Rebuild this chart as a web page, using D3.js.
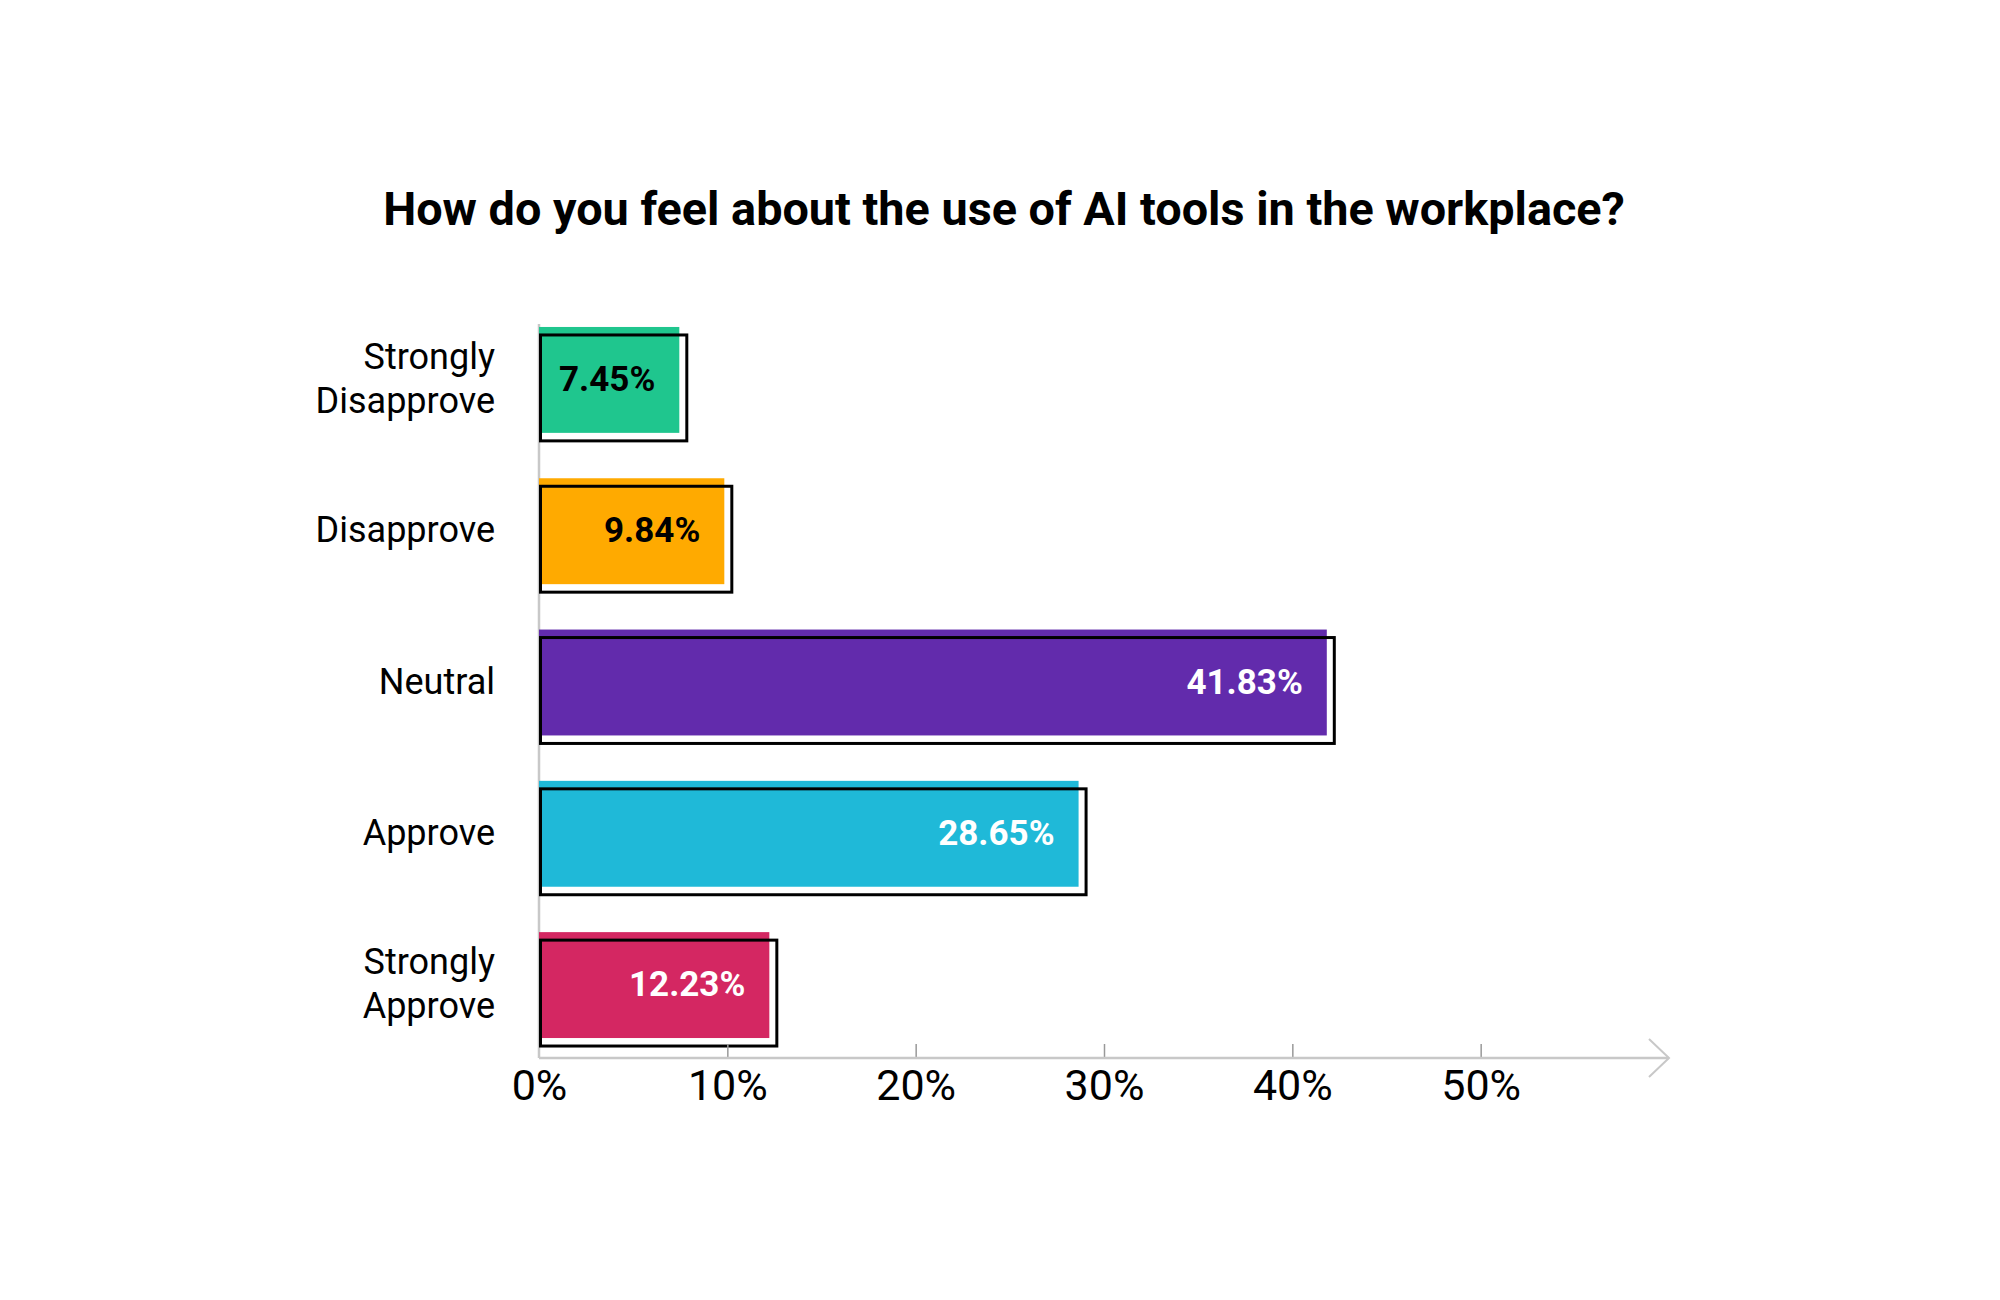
<!DOCTYPE html>
<html lang="en">
<head>
  <meta charset="UTF-8">
  <title>AI tools in the workplace</title>
  <style>
    body, html {
      margin: 0;
      padding: 0;
      background: #fff;
    }
    svg text {
      font-family: Roboto, "Noto Sans", sans-serif;
    }
  </style>
</head>
<body>
  <svg id="svg" width="2000" height="1300"></svg>

  <script src="https://cdn.jsdelivr.net/npm/d3@7"></script>
  <script>
    const categories = ['Strongly Disapprove', 'Disapprove', 'Neutral', 'Approve', 'Strongly Approve'];
    const labelLines = [['Strongly', 'Disapprove'], ['Disapprove'], ['Neutral'], ['Approve'], ['Strongly', 'Approve']];
    const values = [7.45, 9.84, 41.83, 28.65, 12.23];
    const colors = ['#1fc68e', '#ffaa00', '#622bac', '#1fb9d8', '#d42762'];
    const valueTextColors = ['#000', '#000', '#fff', '#fff', '#fff'];
    const tickValues = [0, 10, 20, 30, 40, 50];
    const title = 'How do you feel about the use of AI tools in the workplace?';

    const data = categories.map((c, i) => ({
      label: c,
      lines: labelLines[i],
      value: values[i],
      color: colors[i],
      textColor: valueTextColors[i]
    }));

    const svg = d3.select('#svg');

    const xScale = d3.scaleLinear()
      .domain([0, 60])
      .range([539, 1669]);

    const yScale = d3.scaleBand()
      .domain(categories)
      .range([307, 1058])
      .paddingInner(0.3)
      .paddingOuter(0.132);

    const axisY = yScale.range()[1];
    const bw = yScale.bandwidth();

    // title, squeezed to the width of the original condensed face
    const titleText = svg.append('text')
      .attr('x', 1004)
      .attr('y', 225)
      .attr('text-anchor', 'middle')
      .style('font-size', '48px')
      .style('font-weight', '700')
      .attr('fill', '#000')
      .text(title);
    const tw = titleText.node().getComputedTextLength();
    if (tw > 1242) titleText.style('font-size', (48 * 1242 / tw) + 'px');

    // vertical baseline at zero
    svg.append('line')
      .attr('x1', xScale(0)).attr('x2', xScale(0))
      .attr('y1', yScale(categories[0]) - 3)
      .attr('y2', axisY)
      .attr('stroke', '#c8c8c8')
      .attr('stroke-width', 2.5);

    // bars
    svg.selectAll('.bar')
      .data(data)
      .enter()
      .append('rect')
      .attr('class', 'bar')
      .attr('x', xScale(0))
      .attr('y', d => yScale(d.label))
      .attr('width', d => xScale(d.value) - xScale(0))
      .attr('height', bw)
      .attr('fill', d => d.color);

    // offset outline
    svg.selectAll('.outline')
      .data(data)
      .enter()
      .append('rect')
      .attr('class', 'outline')
      .attr('x', xScale(0) + 1.5)
      .attr('y', d => yScale(d.label) + 8)
      .attr('width', d => xScale(d.value) - xScale(0) + 6)
      .attr('height', bw)
      .attr('fill', 'none')
      .attr('stroke', '#000')
      .attr('stroke-width', 3);

    // value labels
    svg.selectAll('.value')
      .data(data)
      .enter()
      .append('text')
      .attr('class', 'value')
      .attr('x', d => xScale(d.value) - 24)
      .attr('y', d => yScale(d.label) + bw / 2 + 11)
      .attr('text-anchor', 'end')
      .style('font-size', '35px')
      .style('font-weight', '700')
      .attr('fill', d => d.textColor)
      .text(d => d.value.toFixed(2) + '%');

    // category labels
    const cat = svg.selectAll('.cat')
      .data(data)
      .enter()
      .append('text')
      .attr('class', 'cat')
      .attr('text-anchor', 'end')
      .style('font-size', '36px')
      .attr('fill', '#000');

    cat.selectAll('tspan')
      .data(d => d.lines.map((l, i) => ({ text: l, i: i, n: d.lines.length, label: d.label })))
      .enter()
      .append('tspan')
      .attr('x', 495)
      .attr('y', t => yScale(t.label) + bw / 2 + 11 + (t.i - (t.n - 1) / 2) * 44)
      .text(t => t.text);

    // x axis
    const xAxis = svg.append('g')
      .attr('transform', `translate(0,${axisY})`)
      .call(d3.axisBottom(xScale)
        .tickValues(tickValues)
        .tickSize(0)
        .tickPadding(0)
        .tickFormat(d => d + '%'));

    xAxis.select('.domain').remove();
    xAxis.selectAll('.tick text')
      .attr('y', 42)
      .attr('dy', null)
      .style('font-size', '43px')
      .attr('fill', '#000');

    xAxis.selectAll('.tick')
      .filter(d => d !== 0)
      .append('line')
      .attr('y1', -14)
      .attr('y2', 0)
      .attr('stroke', '#999')
      .attr('stroke-width', 1.5);

    const xEnd = xScale.range()[1];
    svg.append('line')
      .attr('x1', xScale(0))
      .attr('x2', xEnd)
      .attr('y1', axisY)
      .attr('y2', axisY)
      .attr('stroke', '#c8c8c8')
      .attr('stroke-width', 2.5);

    svg.append('path')
      .attr('d', `M${xEnd - 20},${axisY - 19}L${xEnd},${axisY}L${xEnd - 20},${axisY + 19}`)
      .attr('fill', 'none')
      .attr('stroke', '#c8c8c8')
      .attr('stroke-width', 2);
  </script>
</body>
</html>
